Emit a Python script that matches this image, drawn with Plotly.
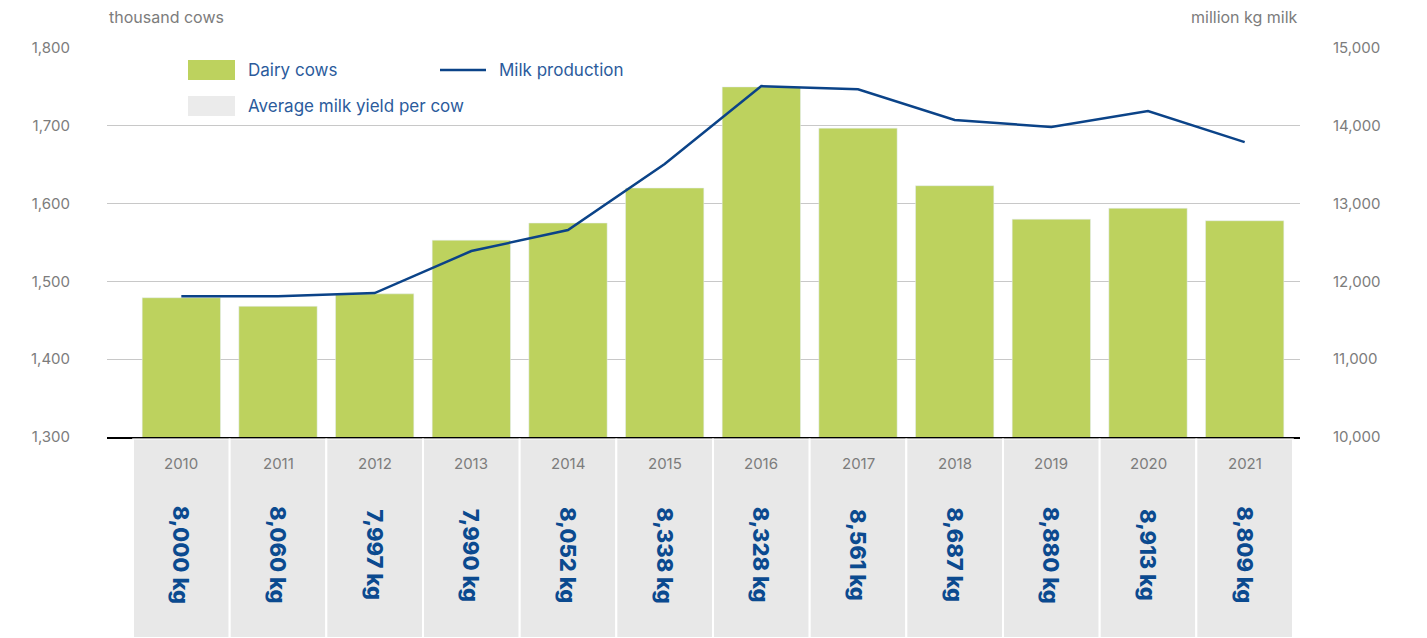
import plotly.graph_objects as go

years = ["2010", "2011", "2012", "2013", "2014", "2015", "2016", "2017", "2018", "2019", "2020", "2021"]
dairy_cows = [1479, 1468, 1484, 1553, 1575, 1620, 1750, 1697, 1623, 1580, 1594, 1578]
milk_production = [11810, 11810, 11850, 12390, 12660, 13510, 14510, 14470, 14075, 13985, 14190, 13790]
milk_yield = ["8,000 kg", "8,060 kg", "7,997 kg", "7,990 kg", "8,052 kg", "8,338 kg",
              "8,328 kg", "8,561 kg", "8,687 kg", "8,880 kg", "8,913 kg", "8,809 kg"]
left_ticks = [1300, 1400, 1500, 1600, 1700, 1800]
right_ticks = [10000, 11000, 12000, 13000, 14000, 15000]

# page body has an 8px margin; work in screenshot pixels and convert
OFF = 8
W, H = 1427 - 2 * OFF, 638 - OFF
L, R = 107 - OFF, 1300 - OFF
FONT = "Inter"
GREEN = "#bdd25e"
BLUE = "#0b4388"
TXT_BLUE = "#2b5b9c"
GRAY_TXT = "#7c7c7c"
TABLE_GRAY = "#e8e8e8"


def px(x):
    return (x - OFF - L) / (R - L)


def py(y):
    return (H - (y - OFF)) / H


fig = go.Figure()

# table background cells
fig.add_trace(go.Bar(
    x=years, y=[1] * len(years), xaxis="x", yaxis="y3", width=1,
    marker=dict(color=TABLE_GRAY, line=dict(color="white", width=2)),
    showlegend=False, hoverinfo="skip",
))

fig.add_trace(go.Bar(
    x=years, y=dairy_cows, name="Dairy cows", width=0.81,
    marker=dict(color=GREEN), showlegend=False,
))

fig.add_trace(go.Scatter(
    x=years, y=milk_production, name="Milk production", yaxis="y2",
    mode="lines", line=dict(color=BLUE, width=2.5), showlegend=False,
))

annotations = []
for i, (yr, val) in enumerate(zip(years, milk_yield)):
    annotations.append(dict(x=i, y=py(463), xref="x", yref="paper", text=yr,
                            xanchor="center", yanchor="middle",
                            showarrow=False, font=dict(family=FONT, size=15, color=GRAY_TXT)))
    annotations.append(dict(x=i, y=py(555), xref="x", yref="paper", text=val,
                            xanchor="center", yanchor="middle",
                            textangle=90, showarrow=False,
                            font=dict(family=FONT, size=22, color="#0b4a8f", weight=800)))

annotations += [
    dict(x=px(107), y=py(17), xref="paper", yref="paper", text="thousand cows", xanchor="left",
         yanchor="middle", showarrow=False, font=dict(family=FONT, size=16, color=GRAY_TXT)),
    dict(x=px(1300), y=py(17), xref="paper", yref="paper", text="million kg milk", xanchor="right",
         yanchor="middle", showarrow=False, font=dict(family=FONT, size=16, color=GRAY_TXT)),
    dict(x=px(246), y=py(70), xref="paper", yref="paper", text="Dairy cows", xanchor="left",
         yanchor="middle", showarrow=False, font=dict(family=FONT, size=17, color=TXT_BLUE)),
    dict(x=px(246), y=py(106), xref="paper", yref="paper", text="Average milk yield per cow", xanchor="left",
         yanchor="middle", showarrow=False, font=dict(family=FONT, size=17, color=TXT_BLUE)),
    dict(x=px(497), y=py(70), xref="paper", yref="paper", text="Milk production", xanchor="left",
         yanchor="middle", showarrow=False, font=dict(family=FONT, size=17, color=TXT_BLUE)),
]

shapes = [
    dict(type="rect", xref="paper", yref="paper", x0=px(188), x1=px(235), y0=py(80), y1=py(60),
         fillcolor=GREEN, line=dict(width=0)),
    dict(type="rect", xref="paper", yref="paper", x0=px(188), x1=px(235), y0=py(116), y1=py(96),
         fillcolor="#ebebeb", line=dict(width=0)),
    dict(type="line", xref="paper", yref="paper", x0=px(440), x1=px(486), y0=py(70), y1=py(70),
         line=dict(color=BLUE, width=2.5)),
]

ncat = len(years)
colw = (1293 - 133) / ncat
c0 = 133 + colw / 2
xr = [(107 - c0) / colw, (1300 - c0) / colw]

fig.update_layout(
    width=W, height=H, autosize=False,
    margin=dict(l=L, r=W - R, t=0, b=0, pad=0, autoexpand=False),
    paper_bgcolor="white", plot_bgcolor="white",
    font=dict(family=FONT, color=GRAY_TXT),
    xaxis=dict(type="category", range=xr, showgrid=False, showticklabels=False, automargin=False,
               showline=True, linecolor="black", linewidth=2, ticks="", anchor="y", zeroline=False),
    yaxis=dict(domain=[py(437), py(48)], range=[1300, 1800], tickvals=left_ticks, automargin=False,
               ticktext=[f"{v:,}" for v in left_ticks], showgrid=True, gridcolor="#c8c8c8",
               gridwidth=1, zeroline=False, ticks="", ticklabelstandoff=36,
               tickfont=dict(family=FONT, size=15, color=GRAY_TXT)),
    yaxis2=dict(overlaying="y", side="right", range=[10000, 15000], tickvals=right_ticks, automargin=False,
                ticktext=[f"{v:,}" for v in right_ticks], showgrid=False, zeroline=False,
                ticks="", ticklabelstandoff=32,
                tickfont=dict(family=FONT, size=15, color=GRAY_TXT)),
    yaxis3=dict(domain=[0, py(438.5)], range=[0, 1], visible=False, anchor="x", fixedrange=True,
                automargin=False),
    annotations=annotations,
    shapes=shapes,
    showlegend=False,
)

fig.write_html("out.html")
